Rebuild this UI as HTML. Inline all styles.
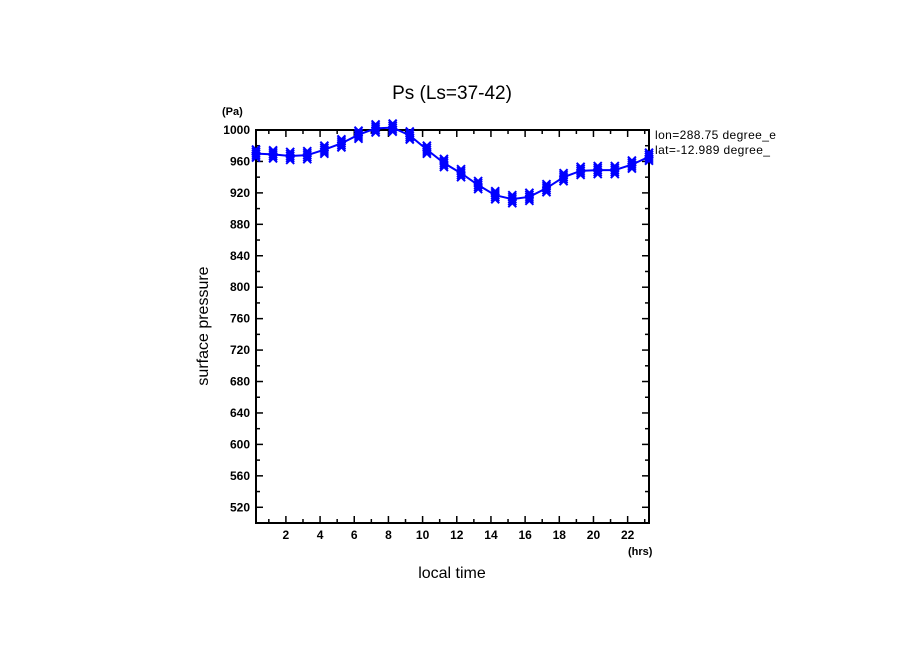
<!DOCTYPE html>
<html><head><meta charset="utf-8"><style>
body{margin:0;background:#fff}
svg text{font-family:"Liberation Sans",sans-serif;fill:#000}
</style></head><body>
<svg id="c" width="904" height="654" xmlns="http://www.w3.org/2000/svg">
<text x="452" y="99" text-anchor="middle" font-size="19">Ps (Ls=37-42)</text>
<text x="222" y="115" font-size="11" font-weight="bold">(Pa)</text>
<text x="628" y="555" font-size="11" font-weight="bold">(hrs)</text>
<text x="452" y="578" text-anchor="middle" font-size="16">local time</text>
<text transform="translate(208,326) rotate(-90)" text-anchor="middle" font-size="16">surface pressure</text>
<text x="655" y="139" font-size="12" letter-spacing="0.4">lon=288.75 degree_e</text>
<text x="655" y="154" font-size="12" letter-spacing="0.4">lat=-12.989 degree_</text>
<rect x="781" y="125" width="60" height="35" fill="#fff"/>
<g id="ax"></g>
<g id="series"></g>
</svg>
<script>
const hours=[0.25,1.25,2.25,3.25,4.25,5.25,6.25,7.25,8.25,9.25,10.25,11.25,12.25,13.25,14.25,15.25,16.25,17.25,18.25,19.25,20.25,21.25,22.25,23.25];
const pressure=[970,969,967,968,975,983,994,1002,1003,993,975,958,945,930,917,912,915,926,940,948,949,949,956,966];
const yTicks=[520,560,600,640,680,720,760,800,840,880,920,960,1000];
const xTicks=[2,4,6,8,10,12,14,16,18,20,22];
const X0=256,X1=649,Y0=523,Y1=130;
const xs=v=>X0+(v-0.25)/23*(X1-X0);
const ys=v=>Y0-(v-500)/500*(Y0-Y1);
const NS="http://www.w3.org/2000/svg";
function mk(t,a,p){const e=document.createElementNS(NS,t);for(const k in a)e.setAttribute(k,a[k]);p.appendChild(e);return e;}
const ax=document.getElementById('ax');
const fr=mk('rect',{x:X0,y:Y1,width:X1-X0,height:Y0-Y1,fill:'none',stroke:'#000','stroke-width':2},ax);


for(let v=520;v<=1000;v+=20){const y=ys(v);const L=(v%40===0)?7:4;
mk('line',{x1:X0,x2:X0+L,y1:y,y2:y,stroke:'#000','stroke-width':1.5},ax);
mk('line',{x1:X1,x2:X1-L,y1:y,y2:y,stroke:'#000','stroke-width':1.5},ax);}
for(let h=1;h<=23;h++){const x=xs(h);const L=(h%2===0)?7:4;
mk('line',{x1:x,x2:x,y1:Y0,y2:Y0-L,stroke:'#000','stroke-width':1.5},ax);
mk('line',{x1:x,x2:x,y1:Y1,y2:Y1+L,stroke:'#000','stroke-width':1.5},ax);}
yTicks.forEach(v=>{const t=mk('text',{x:X0-6,y:ys(v)+4,'text-anchor':'end','font-size':12,'font-weight':'bold'},ax);t.textContent=v;

});
xTicks.forEach(v=>{const t=mk('text',{x:xs(v),y:Y0+16,'text-anchor':'middle','font-size':12,'font-weight':'bold'},ax);t.textContent=v;

});
const s=document.getElementById('series');
const line=mk('polyline',{points:hours.map((h,i)=>xs(h)+','+ys(pressure[i])).join(' '),fill:'none',stroke:'#0000ff','stroke-width':2},s);


hours.forEach((h,i)=>{const x=xs(h),y=ys(pressure[i]);
const g=mk('g',{},s);


[-4,-2,0,2,4].forEach(d=>{
mk('line',{x1:x-4,y1:y+d-4,x2:x+4,y2:y+d+4,stroke:'#0000ff','stroke-width':2},g);
mk('line',{x1:x-4,y1:y+d+4,x2:x+4,y2:y+d-4,stroke:'#0000ff','stroke-width':2},g);});});
</script>
</body></html>
